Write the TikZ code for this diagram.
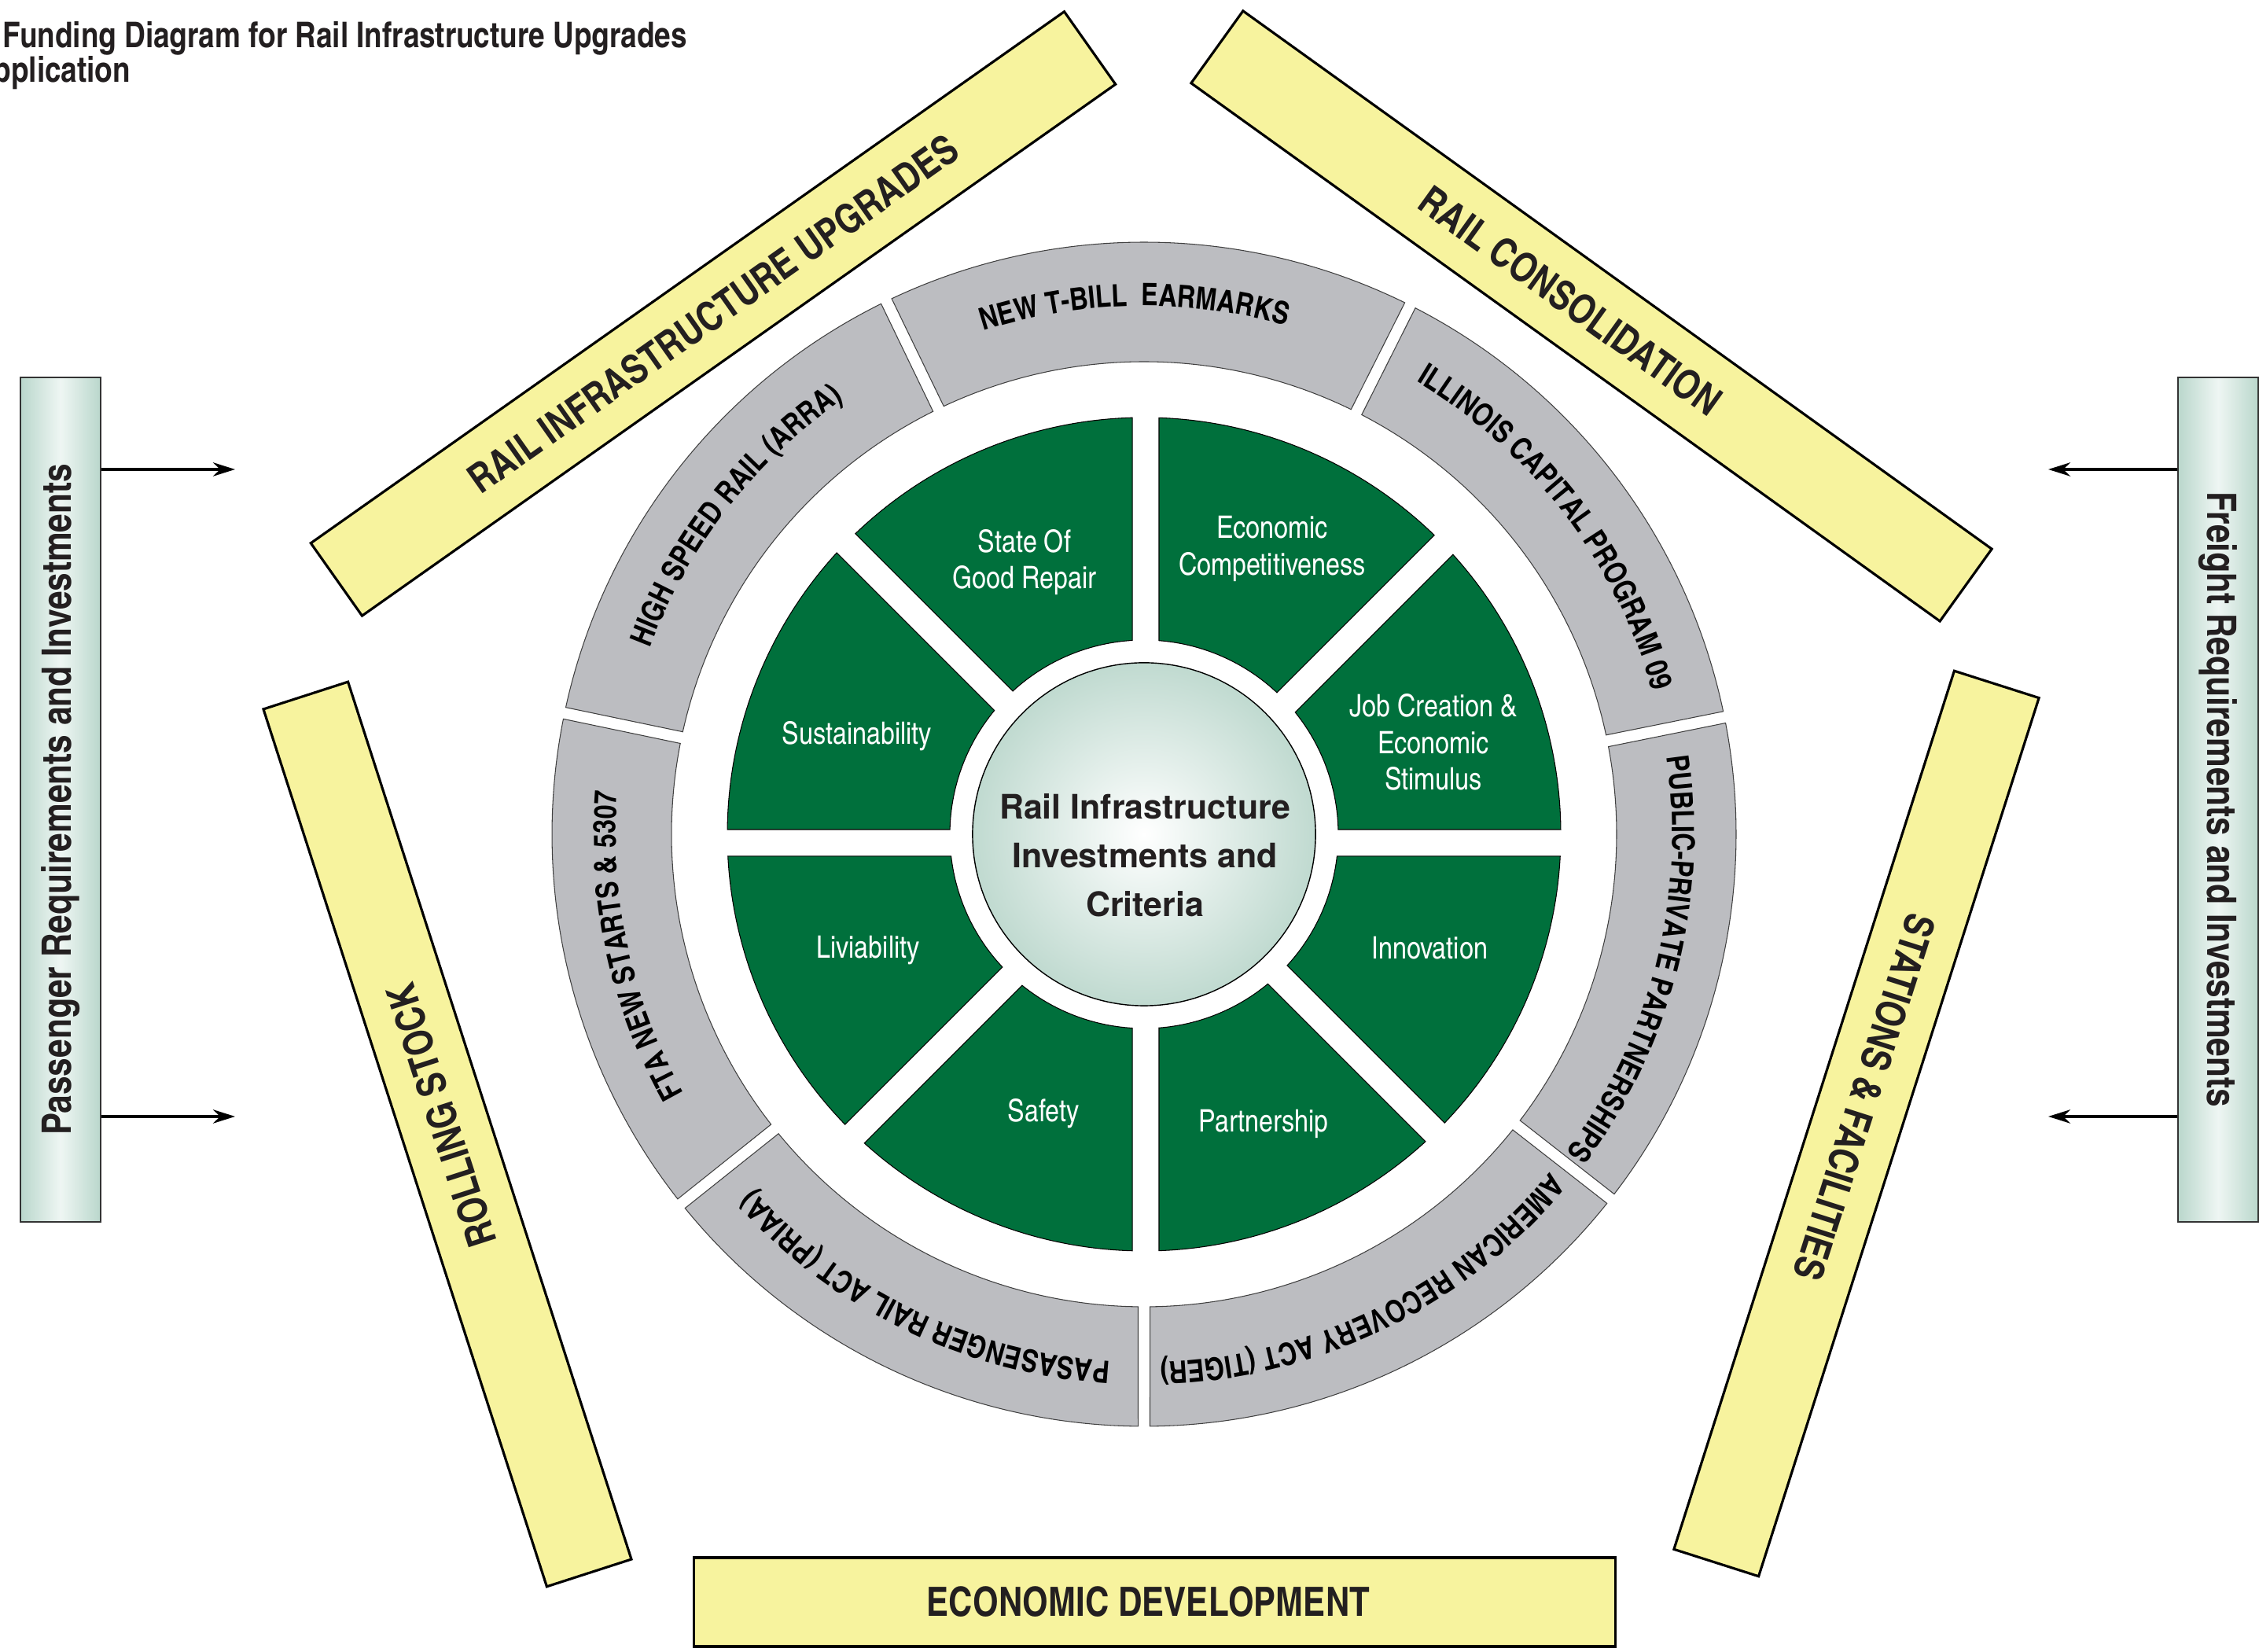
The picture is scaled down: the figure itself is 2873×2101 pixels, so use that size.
\documentclass[tikz,border=0pt]{standalone}
\usepackage{fontspec}
\setmainfont{TeX Gyre Heros}
\newfontfamily\heroscn{texgyreheroscn}[Extension=.otf, UprightFont=*-regular, BoldFont=*-bold]
\usetikzlibrary{arrows.meta, decorations.text}

\definecolor{wheelgreen}{RGB}{0,112,60}
\definecolor{ringgray}{RGB}{188,189,193}
\definecolor{bandyellow}{RGB}{247,243,158}
\definecolor{boxgreen}{RGB}{186,215,204}
\definecolor{boxlight}{RGB}{238,246,243}
\definecolor{hubgreen}{RGB}{192,218,208}
\definecolor{inktext}{RGB}{35,31,32}

\newcommand{\titlefont}{\heroscn\bfseries\fontsize{12.8}{12.5}\selectfont}
\newcommand{\ringfont}{\heroscn\bfseries\fontsize{11.2}{12}\selectfont}
\newcommand{\wedgefont}{\heroscn\fontsize{11.2}{13.3}\selectfont}
\newcommand{\hubfont}{\bfseries\fontsize{12.2}{17.6}\selectfont}
\newcommand{\bandfont}{\heroscn\bfseries\fontsize{14.6}{16}\selectfont}
\newcommand{\sidefont}{\heroscn\bfseries\fontsize{14.7}{16}\selectfont}

\begin{document}
\begin{tikzpicture}[x=0.01cm, y=0.01cm,
            wedge/.style={draw=black, line width=0.3pt, fill=wheelgreen},
            ringseg/.style={draw=black!75, line width=0.3pt, fill=ringgray},
            wedgelabel/.style={text=white, font=\wedgefont, align=center},
            band/.style={draw=black, line width=0.9pt, fill=bandyellow, minimum width=11.72cm, minimum height=1.13cm, inner sep=0pt, font=\bandfont, text=inktext},
            sidebox/.style={draw=black!80, line width=0.5pt, minimum width=1.02cm, minimum height=10.74cm, inner sep=0pt, left color=boxgreen, right color=boxgreen, middle color=boxlight, font=\sidefont, text=inktext},
            hub/.style={circle, draw=black, line width=0.4pt, minimum size=4.36cm, inner sep=0pt, inner color=white, outer color=hubgreen},
            feed/.style={-{Stealth[length=8pt, width=5pt]}, line width=0.9pt}
        ]
            \useasboundingbox (0,0) rectangle (2873,2101);

% Title (cut at the left edge)
            \node (title) [anchor=base west, inner sep=0pt, font=\titlefont, text=inktext] at (3,2040) {Funding Diagram for Rail Infrastructure Upgrades};
            \node (subtitle) [anchor=base west, inner sep=0pt, font=\titlefont, text=inktext] at (-9,1996) {pplication};

% Centre of the wheel
            \coordinate (C) at (1455,1040);

% Grey ring of funding sources
            \foreach \ringA/\ringB in {115.8/63.3, 63.3/11.4, 11.4/-38.0, -38.0/-90, -90/-141.4, -141.4/-191.8, -191.8/-244.2}
                \path [ringseg] ([shift={({\ringA-0.57}:753)}]C) arc[start angle=\ringA-0.57, end angle=\ringB+0.57, radius=753]
                    -- ([shift={({\ringB+0.72}:601)}]C) arc[start angle=\ringB+0.72, end angle=\ringA-0.72, radius=601] -- cycle;

            \path [decorate, decoration={text along path, text align=center, text={|\ringfont|NEW T-BILL\ \ EARMARKS}}] ([shift={(117.3:672)}]C) arc[start angle=117.3, end angle=64.8, radius=672];
            \path [decorate, decoration={text along path, text align=center, text={|\ringfont|ILLINOIS CAPITAL PROGRAM 09}}] ([shift={(63.3:672)}]C) arc[start angle=63.3, end angle=11.4, radius=672];
            \path [decorate, decoration={text along path, text align=center, text={|\ringfont|PUBLIC-PRIVATE PARTNERSHIPS}}] ([shift={(10.4:672)}]C) arc[start angle=10.4, end angle=-39.0, radius=672];
            \path [decorate, decoration={text along path, text align=center, text={|\ringfont|AMERICAN RECOVERY ACT (TIGER)}}] ([shift={(-38.0:672)}]C) arc[start angle=-38.0, end angle=-90, radius=672];
            \path [decorate, decoration={text along path, text align=center, text={|\ringfont|PASASENGER RAIL ACT (PRIAA)}}] ([shift={(-90:672)}]C) arc[start angle=-90, end angle=-141.4, radius=672];
            \path [decorate, decoration={text along path, text align=center, text={|\ringfont|FTA NEW STARTS {\&} 5307}}] ([shift={(-142.4:672)}]C) arc[start angle=-142.4, end angle=-192.8, radius=672];
            \path [decorate, decoration={text along path, text align=center, text={|\ringfont|HIGH SPEED RAIL (ARRA)}}] ([shift={(-191.8:672)}]C) arc[start angle=-191.8, end angle=-244.2, radius=672];

% Green criteria wedges, gaps cross a little below the centre
            \def\wgx{2}\def\wgy{-11}\def\wgap{17}\def\wrin{247}\def\wrout{530}
            \foreach \k in {0,...,7}{
                \pgfmathsetmacro{\angT}{45*\k}
                \pgfmathsetmacro{\offA}{-\wgx*sin(\angT)+\wgy*cos(\angT)}
                \pgfmathsetmacro{\offB}{-\wgx*sin(\angT+45)+\wgy*cos(\angT+45)}
                \pgfmathsetmacro{\angA}{\angT+asin((\offA+\wgap)/\wrin)}
                \pgfmathsetmacro{\angB}{\angT+asin((\offA+\wgap)/\wrout)}
                \pgfmathsetmacro{\angC}{\angT+45+asin((\offB-\wgap)/\wrout)}
                \pgfmathsetmacro{\angD}{\angT+45+asin((\offB-\wgap)/\wrin)}
                \path [wedge] ([shift={(\angA:\wrin)}]C) -- ([shift={(\angB:\wrout)}]C) arc[start angle=\angB, end angle=\angC, radius=\wrout]
                    -- ([shift={(\angD:\wrin)}]C) arc[start angle=\angD, end angle=\angA, radius=\wrin] -- cycle;
            }

            \node (jobs) [wedgelabel] at (1823,1157) {Job Creation \&\\Economic\\Stimulus};
            \node (econcomp) [wedgelabel] at (1618,1403) {Economic\\Competitiveness};
            \node (goodrepair) [wedgelabel] at (1303,1386) {State Of\\Good Repair};
            \node (sustain) [wedgelabel] at (1090,1165) {Sustainability};
            \node (livab) [wedgelabel] at (1104,892) {Liviability};
            \node (safety) [wedgelabel] at (1327,685) {Safety};
            \node (partner) [wedgelabel] at (1607,672) {Partnership};
            \node (innov) [wedgelabel] at (1818,895) {Innovation};

% Hub
            \node (hub) [hub] at (C) {};
            \node (hubtext) [font=\hubfont, text=inktext, align=center] at (1456,1013) {Rail Infrastructure\\Investments and\\Criteria};

% Yellow bands round the wheel
            \node (upgrades) [band, rotate=35.2] at (907,1702) {RAIL INFRASTRUCTURE UPGRADES};
            \node (consol) [band, rotate=-35.7] at (2024,1699) {RAIL CONSOLIDATION\hspace*{0.66cm}};
            \node (rolling) [band, rotate=107.9] at (569,658.5) {\hspace*{0.5cm}ROLLING STOCK};
            \node (stations) [band, rotate=-107.7] at (2361,672) {STATIONS \& FACILITIES\hspace*{0.7cm}};
            \node (econdev) [band] at (1468.5,63.5) {ECONOMIC DEVELOPMENT\hspace*{0.16cm}};

% Side boxes and their arrows
            \node (pass) [sidebox] at (77,1084) {\rotatebox{90}{Passenger Requirements and Investments}};
            \node (freight) [sidebox] at (2821,1084) {\rotatebox{-90}{Freight Requirements and Investments}};

            \coordinate (passup) at (299,1504);
            \coordinate (passdown) at (299,681);
            \coordinate (freightup) at (2605,1504);
            \coordinate (freightdown) at (2605,681);

            \draw [feed] (pass.east |- passup) -- (passup);
            \draw [feed] (pass.east |- passdown) -- (passdown);
            \draw [feed] (freight.west |- freightup) -- (freightup);
            \draw [feed] (freight.west |- freightdown) -- (freightdown);

        \end{tikzpicture}
\end{document}
